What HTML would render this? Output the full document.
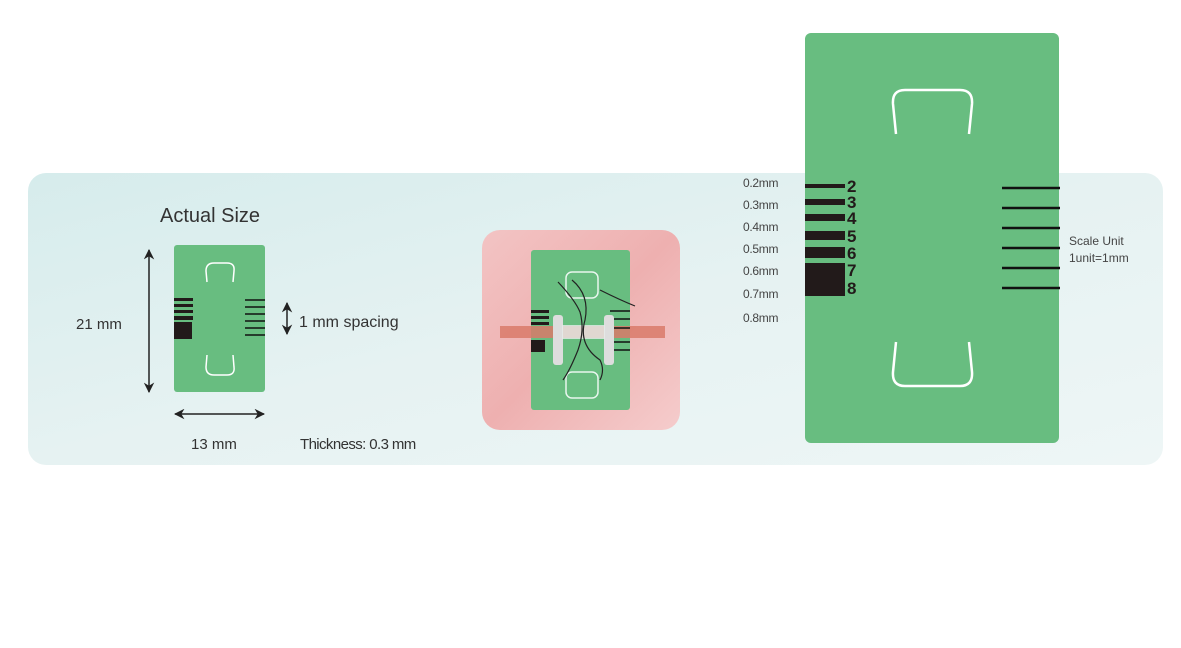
<!DOCTYPE html>
<html><head><meta charset="utf-8"><style>
html,body{margin:0;padding:0;background:#fff;width:1181px;height:648px;overflow:hidden}
svg{display:block}
text{font-family:"Liberation Sans","DejaVu Sans",sans-serif}
</style></head><body>
<svg width="1181" height="648" viewBox="0 0 1181 648" xmlns="http://www.w3.org/2000/svg">
<defs>
<linearGradient id="bg" x1="0" y1="0" x2="1" y2="1">
<stop offset="0" stop-color="#d6ecec"/><stop offset="0.5" stop-color="#e6f2f2"/><stop offset="1" stop-color="#eef6f6"/>
</linearGradient>
<linearGradient id="pk" x1="0" y1="0" x2="1" y2="1">
<stop offset="0" stop-color="#f3c4c4"/><stop offset="0.5" stop-color="#eeb0b0"/><stop offset="1" stop-color="#f5cccc"/>
</linearGradient>
<marker id="ah" viewBox="0 0 10 10" refX="9" refY="5" markerWidth="7" markerHeight="7" orient="auto-start-reverse">
<path d="M0,0 L10,5 L0,10 L3,5 z" fill="#222"/></marker>
</defs>
<rect x="28" y="173" width="1135" height="292" rx="18" fill="url(#bg)"/>

<text x="160" y="222" font-size="20" fill="#333">Actual Size</text>
<line x1="149" y1="250" x2="149" y2="392" stroke="#222" stroke-width="1.5" marker-start="url(#ah)" marker-end="url(#ah)"/>
<text x="76" y="329" font-size="15" fill="#333">21 mm</text>
<rect x="174" y="245" width="91" height="147" rx="3" fill="#68bd80"/>
<path d="M207,282 L206,271 Q206,263 214,263 L227,263 Q235,263 234,271 L233,282" fill="none" stroke="#fff" stroke-width="1.5"/>
<path d="M207,355 L206,367 Q206,375 214,375 L227,375 Q235,375 234,367 L233,355" fill="none" stroke="#fff" stroke-width="1.5"/>
<g fill="#221a1a">
<rect x="174" y="298" width="19" height="3"/><rect x="174" y="304" width="19" height="3"/><rect x="174" y="310" width="19" height="3"/><rect x="174" y="316" width="19" height="4"/><rect x="174" y="322" width="18" height="17"/>
</g>
<g stroke="#111" stroke-width="1.5">
<line x1="245" y1="300" x2="265" y2="300"/><line x1="245" y1="307" x2="265" y2="307"/><line x1="245" y1="314" x2="265" y2="314"/><line x1="245" y1="321" x2="265" y2="321"/><line x1="245" y1="328" x2="265" y2="328"/><line x1="245" y1="335" x2="265" y2="335"/>
</g>
<line x1="287" y1="303" x2="287" y2="334" stroke="#222" stroke-width="1.5" marker-start="url(#ah)" marker-end="url(#ah)"/>
<text x="299" y="327" font-size="16" fill="#333">1 mm spacing</text>
<line x1="175" y1="414" x2="264" y2="414" stroke="#222" stroke-width="1.5" marker-start="url(#ah)" marker-end="url(#ah)"/>
<text x="191" y="449" font-size="15" fill="#333">13 mm</text>
<text x="300" y="449" font-size="15" fill="#333" letter-spacing="-0.6">Thickness: 0.3 mm</text>

<rect x="482" y="230" width="198" height="200" rx="18" fill="url(#pk)"/>
<rect x="531" y="250" width="99" height="160" rx="3" fill="#68bd80"/>
<rect x="566" y="272" width="32" height="26" rx="6" fill="none" stroke="#e8f6ee" stroke-width="1.5"/>
<rect x="566" y="372" width="32" height="26" rx="6" fill="none" stroke="#e8f6ee" stroke-width="1.5"/>
<rect x="500" y="326" width="165" height="12" fill="#d97a6a" opacity="0.85"/>
<g fill="#221a1a"><rect x="531" y="310" width="18" height="3"/><rect x="531" y="316" width="18" height="3"/><rect x="531" y="322" width="18" height="3"/><rect x="531" y="340" width="14" height="12"/></g>
<g stroke="#111" stroke-width="1.5"><line x1="610" y1="311" x2="630" y2="311"/><line x1="610" y1="319" x2="630" y2="319"/><line x1="610" y1="328" x2="630" y2="328"/><line x1="610" y1="342" x2="630" y2="342"/><line x1="610" y1="350" x2="630" y2="350"/></g>
<rect x="553" y="315" width="10" height="50" rx="3" fill="#ddd"/>
<rect x="604" y="315" width="10" height="50" rx="3" fill="#ddd"/>
<rect x="562" y="325" width="43" height="14" fill="#e6ecea" opacity="0.8"/>
<path d="M558,282 Q575,300 580,312 Q585,330 578,350 Q570,370 563,380 M600,290 Q620,300 635,306 M572,280 Q590,295 585,320 Q578,345 600,360 Q605,370 600,380" fill="none" stroke="#222" stroke-width="1.2"/>

<rect x="805" y="33" width="254" height="410" rx="6" fill="#68bd80"/>
<path d="M896,134 L893,104 Q892,90 905,90 L960,90 Q973,90 972,104 L969,134" fill="none" stroke="#fff" stroke-width="2.5"/>
<path d="M896,342 L893,372 Q892,386 905,386 L960,386 Q973,386 972,372 L969,342" fill="none" stroke="#fff" stroke-width="2.5"/>
<g fill="#221a1a">
<rect x="805" y="184" width="40" height="4"/>
<rect x="805" y="199" width="40" height="6"/>
<rect x="805" y="214" width="40" height="7"/>
<rect x="805" y="231" width="40" height="9"/>
<rect x="805" y="247" width="40" height="11"/>
<rect x="805" y="263" width="40" height="33"/>
</g>
<g font-size="17" font-weight="bold" fill="#221a1a">
<text x="847" y="192">2</text><text x="847" y="208">3</text><text x="847" y="224">4</text><text x="847" y="242">5</text><text x="847" y="259">6</text><text x="847" y="276">7</text><text x="847" y="294">8</text>
</g>
<g font-size="12" fill="#444" letter-spacing="-0.3">
<text x="743" y="187">0.2mm</text><text x="743" y="209">0.3mm</text><text x="743" y="231">0.4mm</text><text x="743" y="253">0.5mm</text><text x="743" y="275">0.6mm</text><text x="743" y="298">0.7mm</text><text x="743" y="322">0.8mm</text>
</g>
<g stroke="#111" stroke-width="2.5">
<line x1="1002" y1="188" x2="1060" y2="188"/><line x1="1002" y1="208" x2="1060" y2="208"/><line x1="1002" y1="228" x2="1060" y2="228"/><line x1="1002" y1="248" x2="1060" y2="248"/><line x1="1002" y1="268" x2="1060" y2="268"/><line x1="1002" y1="288" x2="1060" y2="288"/>
</g>
<text x="1069" y="245" font-size="12" fill="#444">Scale Unit</text>
<text x="1069" y="262" font-size="12" fill="#444">1unit=1mm</text>
</svg>
</body></html>
